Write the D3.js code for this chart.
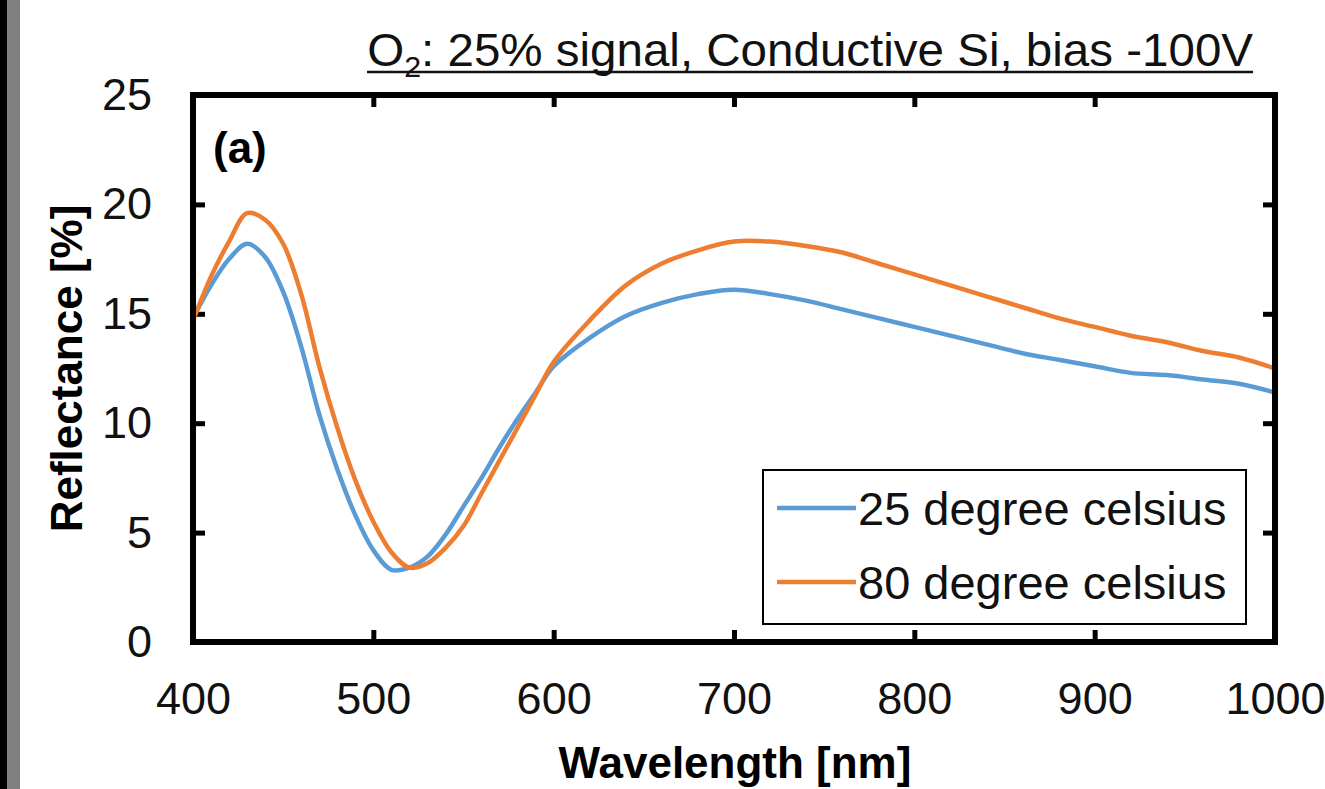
<!DOCTYPE html>
<html>
<head>
<meta charset="utf-8">
<script src="https://d3js.org/d3.v7.min.js"></script>
<style>
    body { margin: 0; background: #fff; }
    svg { display: block; font-family: "Liberation Sans", Arial, sans-serif; }
</style>
</head>
<body>
<script>
    // wavelength grid (nm) and reflectance readings (%)
    var wavelengths = [400, 410, 420, 430, 440, 450, 460, 470, 480, 490, 500, 510, 520, 530, 540, 550, 560, 570, 580, 590, 600,
        620, 640, 660, 680, 700, 720, 740, 760, 780, 800, 820, 840, 860, 880, 900, 920, 940, 960, 980, 1000];
    var refl25 = [14.8, 16.3, 17.5, 18.2, 17.6, 16.0, 13.5, 10.4, 7.9, 5.8, 4.2, 3.3, 3.4, 3.9, 4.9, 6.2, 7.5, 8.9, 10.2, 11.4, 12.6,
        13.9, 14.9, 15.5, 15.9, 16.1, 15.9, 15.6, 15.2, 14.8, 14.4, 14.0, 13.6, 13.2, 12.9, 12.6, 12.3, 12.2, 12.0, 11.8, 11.4];
    var refl80 = [14.7, 16.7, 18.3, 19.6, 19.3, 18.2, 15.9, 12.6, 9.8, 7.4, 5.5, 4.1, 3.4, 3.6, 4.3, 5.3, 6.8, 8.3, 9.8, 11.3, 12.8,
        14.7, 16.3, 17.3, 17.9, 18.3, 18.3, 18.1, 17.8, 17.3, 16.8, 16.3, 15.8, 15.3, 14.8, 14.4, 14.0, 13.7, 13.3, 13.0, 12.5];
    var seriesNames = ["25 degree celsius", "80 degree celsius"];
    var seriesColors = ["#5B9BD5", "#ED7D31"];
    var xTicks = [400, 500, 600, 700, 800, 900, 1000];
    var yTicks = [0, 5, 10, 15, 20, 25];

    var W = 1325, H = 789;
    var pL = 193, pR = 1275, pT = 95, pB = 642;

    var svg = d3.select("body").append("svg")
        .attr("width", W)
        .attr("height", H);

    // dark edge strip on the left of the screenshot
    svg.append("rect").attr("x", 0).attr("y", 0).attr("width", 7).attr("height", H).attr("fill", "#000");
    svg.append("rect").attr("x", 7).attr("y", 0).attr("width", 13).attr("height", H).attr("fill", "#808080");

    var x = d3.scaleLinear().domain([400, 1000]).range([pL, pR]);
    var y = d3.scaleLinear().domain([0, 25]).range([pB, pT]);

    // axes, ticks pointing inward
    var gl = svg.append("g").attr("transform", "translate(" + pL + ",0)")
        .call(d3.axisLeft(y).tickValues(yTicks).tickSize(-12).tickPadding(41).tickFormat(d3.format("d")));
    var gr = svg.append("g").attr("transform", "translate(" + pR + ",0)")
        .call(d3.axisRight(y).tickValues(yTicks).tickSize(-12).tickFormat(""));
    var gb = svg.append("g").attr("transform", "translate(0," + pB + ")")
        .call(d3.axisBottom(x).tickValues(xTicks).tickSize(-12).tickPadding(40).tickFormat(d3.format("d")));
    var gt = svg.append("g").attr("transform", "translate(0," + pT + ")")
        .call(d3.axisTop(x).tickValues(xTicks).tickSize(-12).tickFormat(""));

    [gl, gr, gb, gt].forEach(function(g) {
        g.select(".domain").remove();
        g.selectAll(".tick line").attr("stroke", "#000").attr("stroke-width", 5);
        g.selectAll(".tick text").attr("fill", "#111").style("font-size", "45px")
            .style("font-family", "'Liberation Sans', Arial, sans-serif");
    });

    // series lines
    var line = d3.line()
        .x(function(d) { return x(d[0]); })
        .y(function(d) { return y(d[1]); })
        .curve(d3.curveCatmullRom.alpha(0.5));

    [refl25, refl80].forEach(function(vals, i) {
        var pts = wavelengths.map(function(w, j) { return [w, vals[j]]; });
        svg.append("path")
            .attr("d", line(pts))
            .attr("fill", "none")
            .attr("stroke", seriesColors[i])
            .attr("stroke-width", 4.5)
            .attr("stroke-linejoin", "round");
    });

    // plot frame
    svg.append("rect")
        .attr("x", pL).attr("y", pT)
        .attr("width", pR - pL).attr("height", pB - pT)
        .attr("fill", "none").attr("stroke", "#000").attr("stroke-width", 6);

    // panel label
    svg.append("text")
        .attr("x", 213).attr("y", 163)
        .style("font-size", "44px").style("font-weight", "bold")
        .text("(a)");

    // legend
    var lg = svg.append("g");
    lg.append("rect")
        .attr("x", 763).attr("y", 470)
        .attr("width", 483).attr("height", 154)
        .attr("fill", "#fff").attr("stroke", "#000").attr("stroke-width", 2);
    seriesNames.forEach(function(name, i) {
        var ly = 508 + i * 74;
        lg.append("line")
            .attr("x1", 777).attr("x2", 856)
            .attr("y1", ly).attr("y2", ly)
            .attr("stroke", seriesColors[i]).attr("stroke-width", 4.5);
        lg.append("text")
            .attr("x", 858).attr("y", ly + 17)
            .style("font-size", "47px").attr("fill", "#111")
            .text(name);
    });

    // axis titles
    svg.append("text")
        .attr("x", 735).attr("y", 778)
        .attr("text-anchor", "middle")
        .style("font-size", "44px").style("font-weight", "bold")
        .text("Wavelength [nm]");
    svg.append("text")
        .attr("transform", "translate(82," + ((pT + pB) / 2) + ") rotate(-90)")
        .attr("text-anchor", "middle")
        .style("font-size", "44px").style("font-weight", "bold")
        .text("Reflectance [%]");

    // title, condensed to fit its span
    var tg = svg.append("g");
    var title = tg.append("text")
        .attr("text-anchor", "end")
        .style("font-size", "47px").attr("fill", "#111");
    title.append("tspan").text("O");
    title.append("tspan").attr("dy", 11).style("font-size", "30px").text("2");
    title.append("tspan").attr("dy", -11).text(": 25% signal, Conductive Si, bias -100V");
    var tw = title.node().getComputedTextLength();
    var sx = (1253 - 367) / tw;
    tg.attr("transform", "translate(1253,66) scale(" + sx + ",1)");
    svg.append("line")
        .attr("x1", 367).attr("x2", 1253)
        .attr("y1", 72).attr("y2", 72)
        .attr("stroke", "#111").attr("stroke-width", 2.5);
</script>
</body>
</html>
